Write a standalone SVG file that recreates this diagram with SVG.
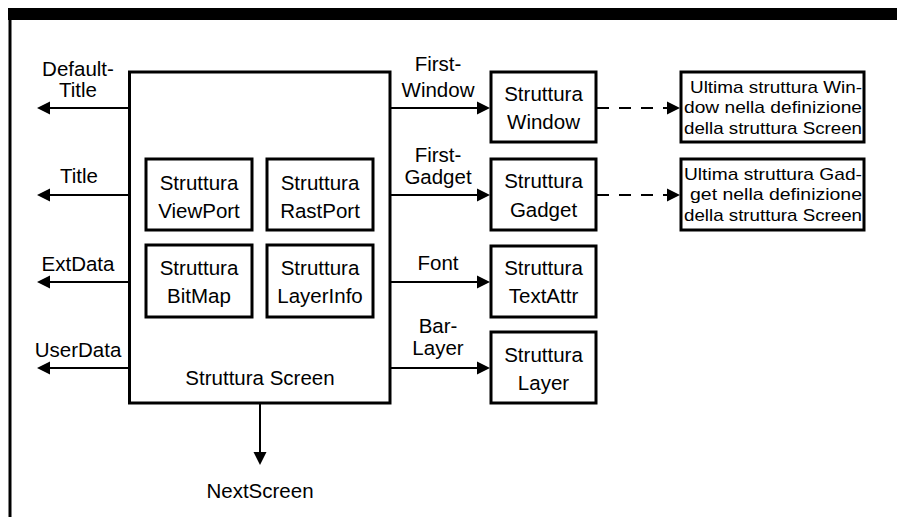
<svg xmlns="http://www.w3.org/2000/svg" width="897" height="517" viewBox="0 0 897 517">
<style>
  .box { fill: #fff; stroke: #000; stroke-width: 3; }
  .t { font-family: "Liberation Sans", Arial, sans-serif; font-size: 20.5px; fill: #000; text-anchor: middle; }
  .s { font-family: "Liberation Sans", Arial, sans-serif; font-size: 17px; fill: #000; }
  .ln { stroke: #000; stroke-width: 2; fill: none; }
  .dash { stroke: #000; stroke-width: 2; fill: none; stroke-dasharray: 12 10; }
  .ah { fill: #000; }
</style>
<rect width="897" height="517" fill="#fff"/>
<g id="frame">
  <rect x="8" y="8" width="889" height="12" fill="#000"/>
  <rect x="8.5" y="8" width="3" height="509" fill="#000"/>
</g>
<g id="connectors">
  <!-- left outputs -->
  <line class="ln" x1="129" y1="108" x2="48" y2="108"/>
  <polygon class="ah" points="37,108 50,101.5 50,114.5"/>
  <line class="ln" x1="129" y1="195" x2="48" y2="195"/>
  <polygon class="ah" points="37,195 50,188.5 50,201.5"/>
  <line class="ln" x1="129" y1="282" x2="48" y2="282"/>
  <polygon class="ah" points="37,282 50,275.5 50,288.5"/>
  <line class="ln" x1="129" y1="368" x2="48" y2="368"/>
  <polygon class="ah" points="37,368 50,361.5 50,374.5"/>
  <!-- down -->
  <line class="ln" x1="260" y1="403" x2="260" y2="455"/>
  <polygon class="ah" points="260,465 253.5,452 266.5,452"/>
  <!-- right outputs -->
  <line class="ln" x1="390" y1="108" x2="480" y2="108"/>
  <polygon class="ah" points="490,108 477,101.5 477,114.5"/>
  <line class="ln" x1="390" y1="195" x2="480" y2="195"/>
  <polygon class="ah" points="490,195 477,188.5 477,201.5"/>
  <line class="ln" x1="390" y1="282" x2="480" y2="282"/>
  <polygon class="ah" points="490,282 477,275.5 477,288.5"/>
  <line class="ln" x1="390" y1="368" x2="480" y2="368"/>
  <polygon class="ah" points="490,368 477,361.5 477,374.5"/>
  <!-- dashed -->
  <line class="dash" x1="597" y1="108" x2="670" y2="108"/>
  <polygon class="ah" points="680,108 667,101.5 667,114.5"/>
  <line class="dash" x1="597" y1="195" x2="670" y2="195"/>
  <polygon class="ah" points="680,195 667,188.5 667,201.5"/>
</g>
<g id="labels">
  <text class="t" x="78" y="76">Default-</text>
  <text class="t" x="78" y="97">Title</text>
  <text class="t" x="79" y="183">Title</text>
  <text class="t" x="78" y="271">ExtData</text>
  <text class="t" x="78" y="357">UserData</text>
  <text class="t" x="438" y="71">First-</text>
  <text class="t" x="438" y="97">Window</text>
  <text class="t" x="438" y="162">First-</text>
  <text class="t" x="438" y="184">Gadget</text>
  <text class="t" x="438" y="270">Font</text>
  <text class="t" x="438" y="333">Bar-</text>
  <text class="t" x="438" y="355">Layer</text>
  <text class="t" x="260" y="498">NextScreen</text>
</g>
<g id="screen">
  <rect class="box" x="129.5" y="72" width="260.5" height="331"/>
  <text class="t" x="260" y="385">Struttura Screen</text>
</g>
<g id="viewport">
  <rect class="box" x="146" y="159" width="106" height="71"/>
  <text class="t" x="199" y="190">Struttura</text>
  <text class="t" x="199" y="218">ViewPort</text>
</g>
<g id="rastport">
  <rect class="box" x="267" y="159" width="106" height="71"/>
  <text class="t" x="320" y="190">Struttura</text>
  <text class="t" x="320" y="218">RastPort</text>
</g>
<g id="bitmap">
  <rect class="box" x="146" y="245" width="106" height="72"/>
  <text class="t" x="199" y="275">Struttura</text>
  <text class="t" x="199" y="303">BitMap</text>
</g>
<g id="layerinfo">
  <rect class="box" x="267" y="245" width="106" height="72"/>
  <text class="t" x="320" y="275">Struttura</text>
  <text class="t" x="320" y="303">LayerInfo</text>
</g>
<g id="window">
  <rect class="box" x="491" y="72" width="105" height="70"/>
  <text class="t" x="543.5" y="101">Struttura</text>
  <text class="t" x="543.5" y="129">Window</text>
</g>
<g id="gadget">
  <rect class="box" x="491" y="159" width="105" height="71"/>
  <text class="t" x="543.5" y="188">Struttura</text>
  <text class="t" x="543.5" y="217">Gadget</text>
</g>
<g id="textattr">
  <rect class="box" x="491" y="246" width="105" height="71"/>
  <text class="t" x="543.5" y="275">Struttura</text>
  <text class="t" x="543.5" y="303">TextAttr</text>
</g>
<g id="layer">
  <rect class="box" x="491" y="332" width="105" height="71"/>
  <text class="t" x="543.5" y="362">Struttura</text>
  <text class="t" x="543.5" y="390">Layer</text>
</g>
<g id="lastwindow">
  <rect class="box" x="681" y="72" width="183" height="70"/>
  <text class="s" x="690" y="93" textLength="172" lengthAdjust="spacingAndGlyphs">Ultima struttura Win-</text>
  <text class="s" x="684" y="113" textLength="178" lengthAdjust="spacingAndGlyphs">dow nella definizione</text>
  <text class="s" x="684" y="134" textLength="178" lengthAdjust="spacingAndGlyphs">della struttura Screen</text>
</g>
<g id="lastgadget">
  <rect class="box" x="681" y="159" width="183" height="71"/>
  <text class="s" x="684" y="180" textLength="178" lengthAdjust="spacingAndGlyphs">Ultima struttura Gad-</text>
  <text class="s" x="690" y="200" textLength="172" lengthAdjust="spacingAndGlyphs">get nella definizione</text>
  <text class="s" x="684" y="221" textLength="178" lengthAdjust="spacingAndGlyphs">della struttura Screen</text>
</g>
</svg>
